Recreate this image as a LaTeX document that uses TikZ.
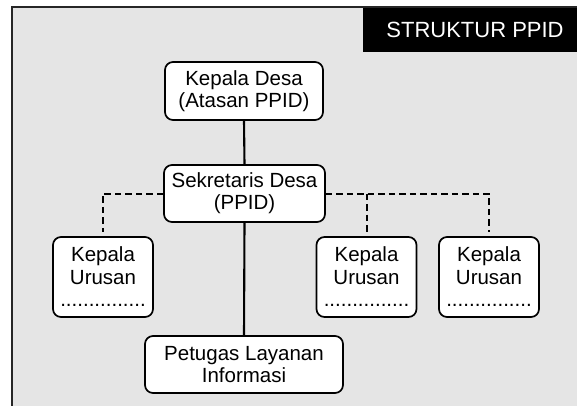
\documentclass[tikz,border=0pt]{standalone}
\usepackage{fontspec}
\setmainfont{Liberation Sans}
\usetikzlibrary{arrows}
\tikzstyle{jabatan} = [draw=black, line width=1.7pt, fill=white, rounded corners=8pt, align=center, inner sep=0pt, font=\fontsize{20.5}{22}\selectfont]
\tikzstyle{garis} = [line width=2.1pt]
\tikzstyle{koordinasi} = [line width=2pt, dash pattern=on 6.5pt off 4pt, shorten >=4pt]

\begin{document}
\begin{tikzpicture}[x=1pt,y=-1pt]
	\useasboundingbox (0,0) rectangle (577,405);
	\clip (0,0) rectangle (577,405);
	\draw[line width=2.4pt, draw=black!85, fill=black!10] (12,412) -- (12,7) -- (582,7) -- (582,412);
	\fill[black] (363,8) rectangle (577,52);
	\node[text=white, font=\fontsize{22}{24}\selectfont] (judul) at (475,30) {STRUKTUR PPID};
	\node[jabatan, minimum width=158pt, minimum height=58pt] (kades) at (244,91) {Kepala Desa\\(Atasan PPID)};
	\node[jabatan, minimum width=161pt, minimum height=57pt] (sekdes) at (244.5,193.5) {Sekretaris Desa\\(PPID)};
	\node[jabatan, minimum width=100pt, minimum height=80pt, font=\fontsize{20.5}{22.5}\selectfont] (kaur1) at (103,277) {Kepala\\Urusan\\...............};
	\node[jabatan, minimum width=100pt, minimum height=80pt, font=\fontsize{20.5}{22.5}\selectfont] (kaur2) at (366.5,277) {Kepala\\Urusan\\...............};
	\node[jabatan, minimum width=100pt, minimum height=80pt, font=\fontsize{20.5}{22.5}\selectfont] (kaur3) at (489,277) {Kepala\\Urusan\\...............};
	\node[jabatan, minimum width=198pt, minimum height=57pt] (petugas) at (244,364.5) {Petugas Layanan\\Informasi};
	\draw[garis] (kades.south) -- (sekdes.north);
	\draw[garis] (sekdes.south) -- (petugas.north);
	\draw[koordinasi] (sekdes.west) -| (kaur1.north);
	\draw[koordinasi] (sekdes.east) -| (kaur3.north);
	\draw[koordinasi] (sekdes.east -| kaur2.north) -- (kaur2.north);
\end{tikzpicture}
\end{document}
